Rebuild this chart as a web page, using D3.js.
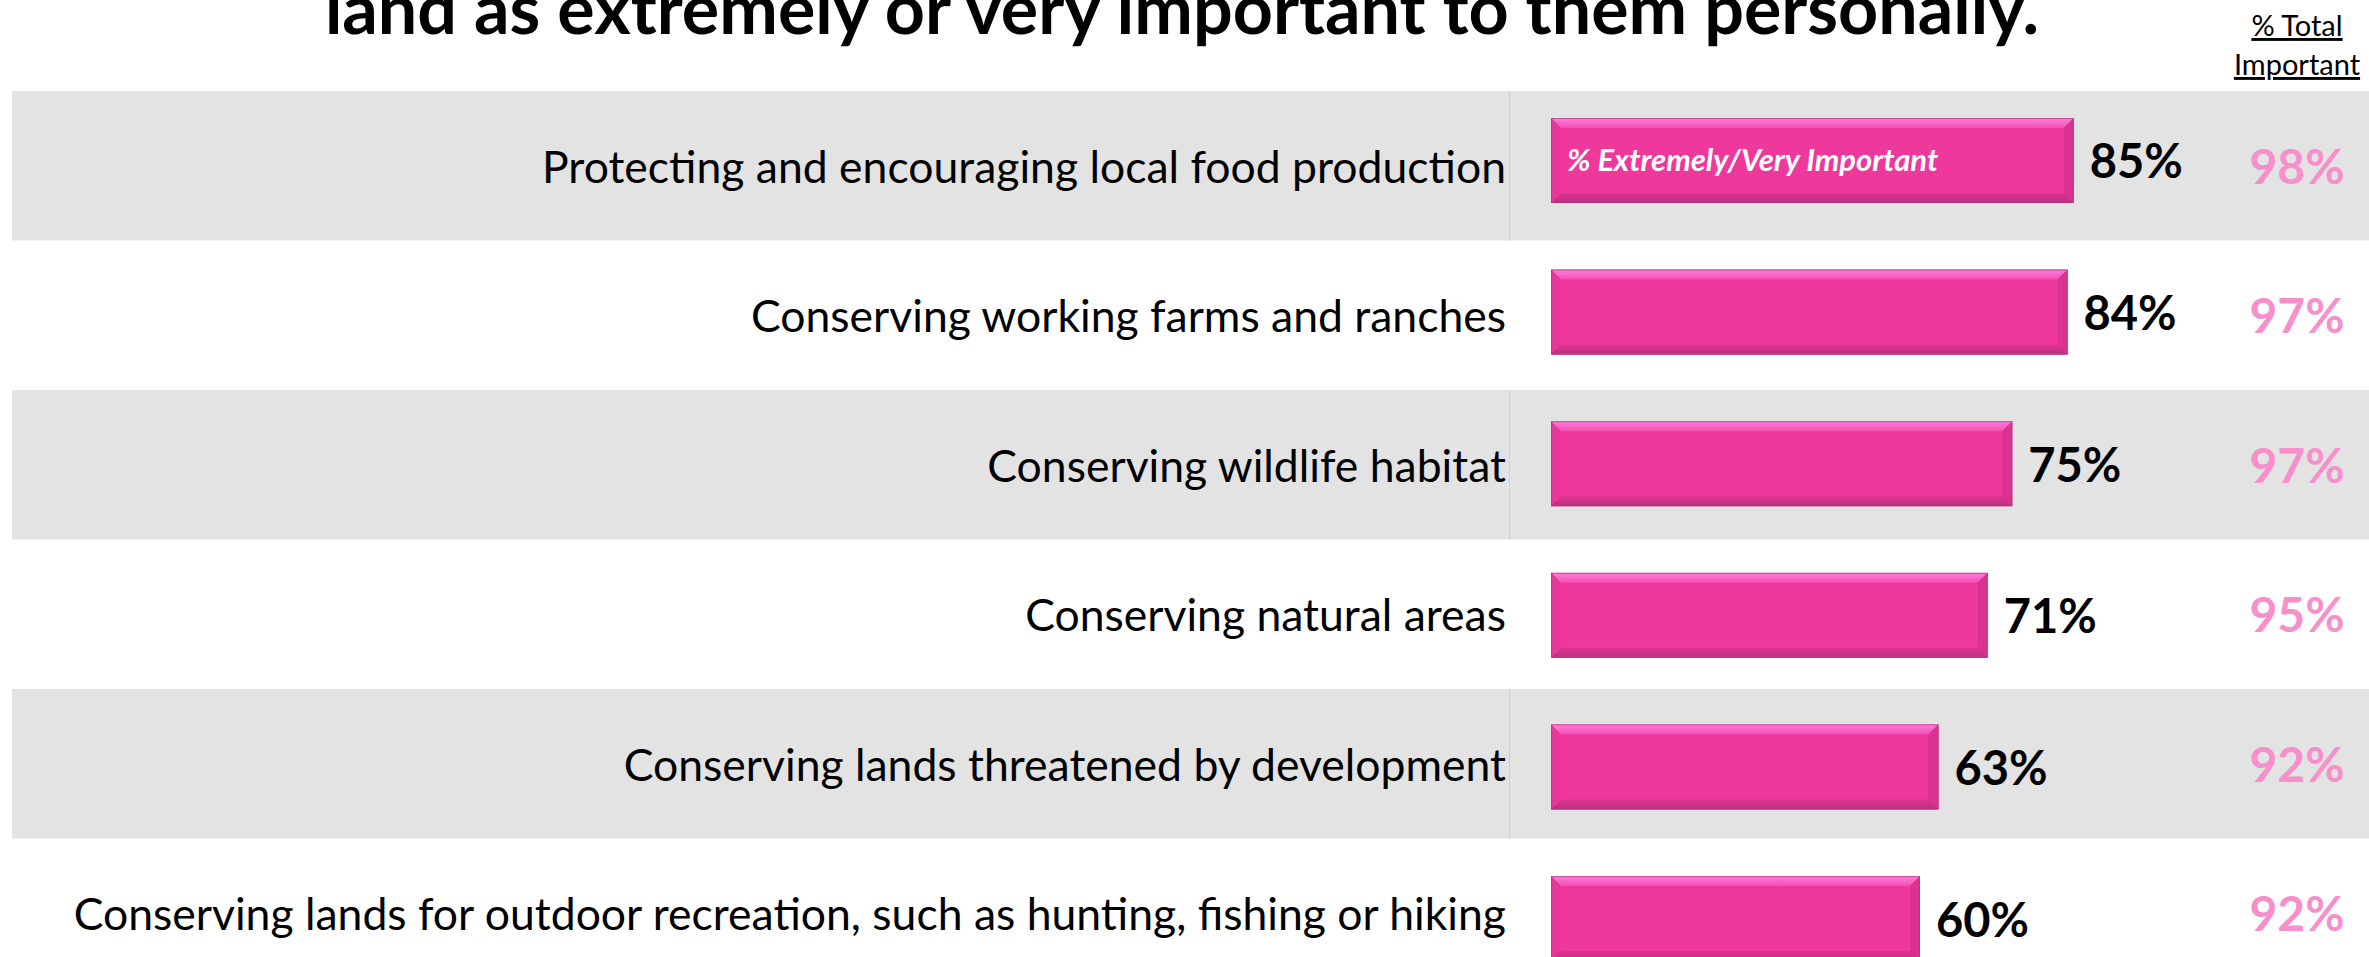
<!DOCTYPE html>
<html>
<head>
<meta charset="utf-8">
<script src="https://cdn.jsdelivr.net/npm/d3@7"></script>
<style>
  body { margin: 0; background: #fff; }
  svg { display: block; font-family: Lato, "Open Sans", sans-serif; }
</style>
</head>
<body>
<div id="chart"></div>
<script>
var svgWidth = 2369;
var svgHeight = 957;

// data
var categories = [
  "Protecting and encouraging local food production",
  "Conserving working farms and ranches",
  "Conserving wildlife habitat",
  "Conserving natural areas",
  "Conserving lands threatened by development",
  "Conserving lands for outdoor recreation, such as hunting, fishing or hiking"
];
var extremelyVery = [85, 84, 75, 71, 63, 60];
var totalImportant = [98, 97, 97, 95, 92, 92];
var titleText = "land as extremely or very important to them personally.";
var seriesName = "% Extremely/Very Important";
var totalHeader = ["% Total", "Important"];

var rows = categories.map(function(c, i) {
  return { cat: c, val: extremelyVery[i], total: totalImportant[i], i: i };
});

var svg = d3.select("#chart").append("svg")
  .attr("width", svgWidth)
  .attr("height", svgHeight);

// scales
var rowY = d3.scaleBand().domain(categories).range([91, 91 + 6 * 149.5]).padding(0);
var barY = d3.scaleBand().domain(categories).range([118, 961]).paddingInner(0.44).paddingOuter(0);
var x = d3.scaleLinear().domain([0, 100]).range([1551, 2166]);

// gradients for the bevel
var defs = svg.append("defs");
var gTop = defs.append("linearGradient").attr("id", "bevTop").attr("x1", 0).attr("y1", 0).attr("x2", 0).attr("y2", 1);
gTop.append("stop").attr("offset", "0%").attr("stop-color", "#ff7fdc");
gTop.append("stop").attr("offset", "100%").attr("stop-color", "#f24fb0");
var gBot = defs.append("linearGradient").attr("id", "bevBot").attr("x1", 0).attr("y1", 0).attr("x2", 0).attr("y2", 1);
gBot.append("stop").attr("offset", "0%").attr("stop-color", "#e03393");
gBot.append("stop").attr("offset", "100%").attr("stop-color", "#b8307c");

// striped row backgrounds
svg.append("g").selectAll("rect")
  .data(rows.filter(function(d) { return d.i % 2 === 0; }))
  .enter().append("rect")
  .attr("x", 12)
  .attr("y", function(d) { return rowY(d.cat); })
  .attr("width", svgWidth - 12)
  .attr("height", rowY.bandwidth())
  .attr("fill", "#e3e3e3");

// divider between labels and bars (only shows in grey rows)
svg.append("g").selectAll("line")
  .data(rows.filter(function(d) { return d.i % 2 === 0; }))
  .enter().append("line")
  .attr("x1", 1509.5).attr("x2", 1509.5)
  .attr("y1", function(d) { return rowY(d.cat); })
  .attr("y2", function(d) { return rowY(d.cat) + rowY.bandwidth(); })
  .attr("stroke", "#cfcfcf")
  .attr("stroke-width", 1);

// title (cut by top edge, as in the slide)
svg.append("text")
  .attr("x", 1182)
  .attr("y", 34)
  .attr("text-anchor", "middle")
  .attr("font-size", "70px")
  .attr("font-weight", "bold")
  .attr("fill", "#000")
  .text(titleText);

// header for the total column
svg.append("g").selectAll("text")
  .data(totalHeader)
  .enter().append("text")
  .attr("x", 2297)
  .attr("y", function(d, i) { return 36 + i * 39; })
  .attr("text-anchor", "middle")
  .attr("font-size", "29px")
  .attr("text-decoration", "underline")
  .attr("fill", "#000")
  .text(function(d) { return d; });

// category labels
svg.append("g").selectAll("text")
  .data(rows)
  .enter().append("text")
  .attr("x", 1506)
  .attr("y", function(d) { return rowY(d.cat) + rowY.bandwidth() / 2 + 17; })
  .attr("text-anchor", "end")
  .attr("font-size", "44.5px")
  .attr("fill", "#000")
  .text(function(d) { return d.cat; });

// bars with a bevel look
var bev = 10;
var bars = svg.append("g").selectAll("g")
  .data(rows)
  .enter().append("g");

bars.append("rect")
  .attr("x", x(0))
  .attr("y", function(d) { return barY(d.cat); })
  .attr("width", function(d) { return x(d.val) - x(0); })
  .attr("height", barY.bandwidth())
  .attr("fill", "#ee389c");

function poly(pts) { return pts.map(function(p) { return p.join(","); }).join(" "); }

bars.append("polygon")
  .attr("fill", "url(#bevTop)")
  .attr("points", function(d) {
    var x0 = x(0), x1 = x(d.val), y0 = barY(d.cat);
    return poly([[x0, y0], [x1, y0], [x1 - bev, y0 + bev], [x0 + bev, y0 + bev]]);
  });
bars.append("polygon")
  .attr("fill", "url(#bevBot)")
  .attr("points", function(d) {
    var x0 = x(0), x1 = x(d.val), y1 = barY(d.cat) + barY.bandwidth();
    return poly([[x0 + bev, y1 - bev], [x1 - bev, y1 - bev], [x1, y1], [x0, y1]]);
  });
bars.append("polygon")
  .attr("fill", "#e8369a")
  .attr("points", function(d) {
    var x0 = x(0), y0 = barY(d.cat), y1 = y0 + barY.bandwidth();
    return poly([[x0, y0], [x0 + bev, y0 + bev], [x0 + bev, y1 - bev], [x0, y1]]);
  });
bars.append("polygon")
  .attr("fill", "#d93290")
  .attr("points", function(d) {
    var x1 = x(d.val), y0 = barY(d.cat), y1 = y0 + barY.bandwidth();
    return poly([[x1, y0], [x1, y1], [x1 - bev, y1 - bev], [x1 - bev, y0 + bev]]);
  });
bars.append("rect")
  .attr("x", x(0) + 0.5)
  .attr("y", function(d) { return barY(d.cat) + 0.5; })
  .attr("width", function(d) { return x(d.val) - x(0) - 1; })
  .attr("height", barY.bandwidth() - 1)
  .attr("fill", "none")
  .attr("stroke", "#b7357f")
  .attr("stroke-width", 1)
  .attr("stroke-opacity", 0.7);

// series name inside the first bar
svg.append("text")
  .attr("x", x(0) + 16)
  .attr("y", barY(categories[0]) + barY.bandwidth() / 2 + 11)
  .attr("font-size", "31px")
  .attr("font-weight", "bold")
  .attr("font-style", "italic")
  .attr("fill", "#fff")
  .text(seriesName);

// value labels
svg.append("g").selectAll("text")
  .data(rows)
  .enter().append("text")
  .attr("x", function(d) { return x(d.val) + 16; })
  .attr("y", function(d) { return barY(d.cat) + barY.bandwidth() / 2 + 18; })
  .attr("font-size", "47px")
  .attr("font-weight", "bold")
  .attr("fill", "#000")
  .text(function(d) { return d.val + "%"; });

// total important column
svg.append("g").selectAll("text")
  .data(rows)
  .enter().append("text")
  .attr("x", 2297)
  .attr("y", function(d) { return rowY(d.cat) + rowY.bandwidth() / 2 + 18; })
  .attr("text-anchor", "middle")
  .attr("font-size", "48px")
  .attr("font-weight", "bold")
  .attr("fill", "#f78fcb")
  .text(function(d) { return d.total + "%"; });
</script>
</body>
</html>
